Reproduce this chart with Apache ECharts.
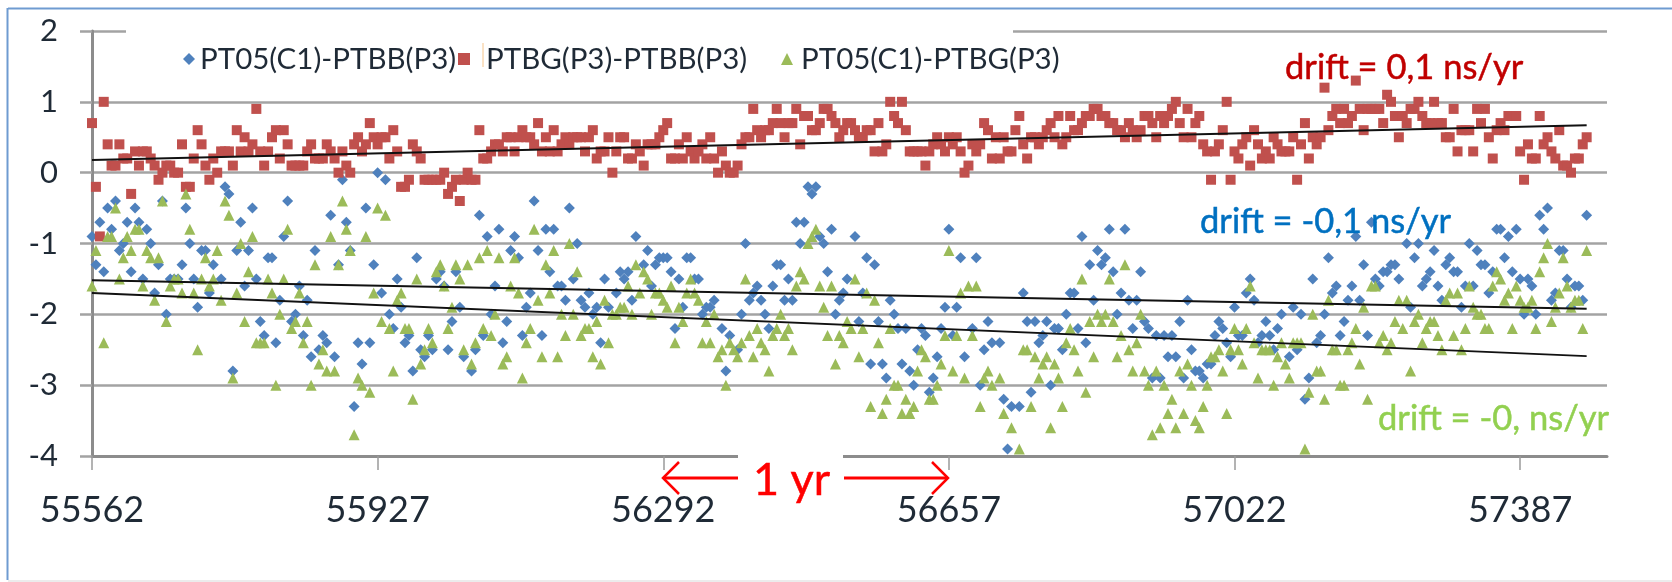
<!DOCTYPE html>
<html><head><meta charset="utf-8">
<style>html,body{margin:0;padding:0;background:#fff}#c{width:1672px;height:582px}</style>
<script src="https://cdn.jsdelivr.net/npm/echarts@6/dist/echarts.min.js"></script>
</head><body><div id="c"></div>
<script>
const startDay = 55562, stepDays = 5;
const xTicks = [55562, 55927, 56292, 56657, 57022, 57387];
const seriesNames = ['PT05(C1)-PTBB(P3)', 'PTBG(P3)-PTBB(P3)', 'PT05(C1)-PTBG(P3)'];
const redValues = [
.7,-.2,-.9,1,.4,.1,.1,.4,.2,.2,
-.3,.3,.1,.3,.3,.2,.1,-.1,0,.1,
.1,0,0,.4,-.2,-.2,.2,.6,.4,.1,
-.1,.2,0,.3,.3,.3,.1,.6,.3,.5,
.3,.4,.9,.3,.1,.3,.5,.6,.2,.6,
.4,.1,.1,.1,.1,.3,.4,.2,.2,.2,
.4,.3,.2,0,.3,.1,0,.4,.5,.3,
.4,.7,.5,.4,.5,.5,.2,.6,.3,-.2,
-.2,-.1,.4,.3,.2,-.1,-.1,-.1,-.1,-.1,
0,-.3,-.2,-.1,-.4,-.1,0,-.1,-.1,.6,
.2,.2,.3,.4,.4,.3,.5,.5,.3,.5,
.6,.5,.5,.4,.7,.3,.5,.3,.6,.3,
.4,.5,.4,.5,.5,.5,.3,.5,.6,.2,
.3,.3,.5,0,.3,.5,.5,.2,.2,.4,
.3,.1,.4,.4,.4,.5,.6,.7,.2,.2,
.4,.2,.5,.3,.2,.3,.4,.2,.5,.2,
0,.3,.1,0,0,.1,.4,.5,.5,.9,
.6,.5,.6,.6,.7,.9,.7,.5,.7,.7,
.9,.4,.8,.8,.6,.6,.7,.9,.9,.8,
.7,.5,.6,.7,.7,.6,.5,.5,.6,.6,
.3,.7,.3,.4,1,.8,.7,1,.6,.3,
.3,.3,.3,.1,.3,.4,.5,.4,.3,.5,
.4,.5,.3,0,.1,.4,.3,.4,.7,.6,
.2,.5,.2,.5,.3,.3,.6,.8,.4,.2,
.5,.5,.4,.5,.6,.7,.5,.8,.4,.5,
.8,.6,.6,.7,.8,.8,.9,.9,.8,.8,
.7,.7,.6,.6,.5,.7,.6,.5,.6,.8,
.8,.7,.5,.8,.7,.8,.9,1,.7,.5,
.9,.5,.7,.8,.4,.3,-.1,.3,.4,.6,
1,-.1,.3,.2,.4,.5,.1,.6,.4,.2,
.3,.2,.5,.4,.3,.3,.3,.5,-.1,.4,
.7,.2,.5,.4,.5,1.2,.6,.8,.9,.7,
.9,.7,.8,1.3,.9,.6,.9,.9,.9,.9,
.7,1.1,1,.8,.5,.8,.7,.9,.9,1,
.8,.7,.7,1,.7,.7,.5,.5,.9,.3,
.6,.6,.6,.3,.9,.7,.9,.5,.2,.6,
.7,.6,.8,.8,.8,.3,-.1,.4,.2,.2,
.8,.4,.5,.3,.2,.6,.1,.1,0,.2,.2,.4,.5];
const blueValues = [
-.9,-1.3,-.7,-1.4,-.5,-.8,-.4,-1.1,-1,-.7,
-1.4,-.5,-.7,-1.5,-.8,-1,-1.7,-1.3,-.4,-2,
-1.5,-1.5,-1.5,-1.3,-.5,-1,-1.5,-1.9,-1.1,-1.1,
-1.7,-1.3,null,-1.5,-.2,-.3,-2.8,-1.1,-.7,-1.6,
-1.1,-.5,-1.5,-2.1,-2.3,-1.2,-1.2,-2.4,-1.8,-.9,
-.4,-2.1,-2,-1.6,-2.3,-1.8,-2.6,-1.1,-2.5,-2.3,
-2.4,-.6,-2.6,-1.3,-.1,-.7,-1.1,-3.3,-2.4,-2.7,
-.5,-2.4,-1.3,0,-1.7,-.1,-2,-2.2,-1.5,-1.9,
-2.4,-2.3,-2.8,-1.2,-2.5,-2.6,-2.3,-2.5,-1.5,-1.4,
-1.6,-2.5,-2.1,-1.4,-1.9,-2.6,null,-2.8,-2.5,-.6,
-2.3,-.9,-2,-1.6,-.8,-2.4,-2.1,-1.1,-.9,-1.2,
-2.3,-1.9,-1.7,-.4,-1.1,-2.3,-.8,-1.4,-.8,-1.6,
-1.6,-1.8,-.5,-1.5,-1,-1.8,-1.9,-1.7,-2,-1.9,
-2.4,-1.5,-1.9,null,-1.7,-1.4,-1.5,-1.4,-1.8,-.9,
null,-1.3,-1.1,-1.6,-1.3,-1.2,-1.2,-1.2,-1.4,-2.2,
-1.5,-1.9,-1.2,-1.2,-1.5,-1.5,-2,-1.9,-1.9,-1.8,
null,-2.2,-2.8,-2.3,null,-2.5,-2,-1,-1.8,-1.7,
-1.6,-1.8,-2,-2.2,-1.6,-1.3,-1.3,-1.8,-1.5,-1.8,
-.7,-1,-.7,-.2,-.3,-.2,-.9,-1,-1.4,-.8,
-2,-1.8,-1.7,-1.5,null,-.9,-2.1,-1.7,-1.2,-2.7,
-1.3,-2.1,-2.7,-2.9,-1.8,-2,-2.2,-2.7,-2.2,-2.8,
-3,-2.5,-2.2,-2.3,-3.1,-2.9,-2.6,-2.2,-1.9,-.8,
-2.3,-1.9,-1.2,-2.6,null,-2.2,-1.2,-3,-2.5,-2.1,
-2.4,null,-2.4,-3.2,-3.9,-3.3,null,-3.3,-1.7,-2.1,
-3.1,-2.1,-2.4,-2.3,-2.1,-3,-2.2,-2.2,-2.5,-2,
-1.7,-1.7,-2.2,-.9,-2.4,-1.3,-1.8,-1.1,-1.3,-1.2,
-.8,-1.4,-2,-1.7,-.8,-1.8,-2.2,-1.8,-1.4,-2.1,
-2.2,-2.9,-2.3,-2.9,-2.3,-2.6,-2.3,-2.6,-2.1,-2.9,
-1.8,-2.5,-2.8,-2.8,-2.9,-2.7,-2.7,-2.3,-2.1,-2.2,
-2.4,-2.6,-1.9,-2.3,-2.3,-1.7,-1.5,-1.8,-2.4,-2.3,
-2.1,-2.3,-2.5,-2.2,-2,null,-2.6,-1.9,-2.5,-2,
-3.2,-2.9,-1.5,-2.4,-2.3,-2,-1.2,-1.7,-1.6,-2.3,
-2.1,-1.8,-1.6,-.9,-1.8,-1.3,-2.3,-.7,-1.5,-1.6,
-1.4,-1.4,-1.3,-1.3,-1.5,null,-1,-1.9,-1.2,-1,
-1.6,-1.5,-1.4,-1.1,-1.6,-1.8,-1.3,-1.2,-1.4,-1.4,
-1.9,-1.6,-1,-1.6,-1.1,-1.3,-1.3,-1.7,-1.4,-.8,
-.8,-1.2,-.9,-1.4,-.8,-1.5,-2,-1.5,-1.6,-2,
-.6,-.8,-.5,-1.8,-1.7,-1.1,-1.1,-1.5,-1.9,-1.6,-1.6,-1.8,-.6];
const greenValues = [
-1.6,-1.1,null,-2.4,-.9,-.9,-.5,-1.5,-1.2,-.9,
-1.1,-.8,-.8,-1.6,-1.1,-1.2,-1.8,-1.2,-.4,-2.1,
-1.6,-1.5,-1.5,-1.7,-.3,-.8,-1.7,-2.5,-1.5,-1.2,
-1.6,-1.5,-1.1,-1.8,-.4,-.6,-2.9,-1.7,-1,-2.1,
-1.4,-.9,-2.4,-2.4,-2.4,-1.5,-1.7,-3,-2,-1.5,
-.8,-2.2,-2.1,-1.7,-2.4,-2.1,-3,-1.3,-2.7,-2.5,
-2.8,-.9,-2.8,-1.3,-.4,-.8,-1.1,-3.7,-2.9,-3,
-.9,-3.1,-1.7,-.5,-2.1,-.6,-2.2,-2.8,-1.8,-1.7,
-2.2,-2.2,-3.2,-1.5,-2.7,-2.5,-2.2,-2.4,-1.4,-1.3,
-1.6,-2.2,-1.9,-1.3,-1.5,-2.5,-1.3,-2.7,-2.4,-1.2,
-2.2,-1.1,-2.3,-2,-1.2,-2.7,-2.6,-1.6,-1.2,-1.7,
-2.9,-2.4,-2.2,-.8,-1.8,-2.6,-1.3,-1.7,-1.1,-2.6,
-2,-2.3,-1,-2,-1.4,-2.3,-2.2,-2.2,-2.6,-2.1,
-2.7,-1.8,-2.4,-2,-2,-1.9,-1.9,-1.6,-2,-1.3,
-1.7,-1.4,-1.5,-2,-1.7,-1.7,-1.8,-1.9,-1.6,-2.4,
-1.9,-2.1,-1.7,-1.5,-1.7,-1.8,-2.4,-2.1,-2.4,-2,
-2.6,-2.5,-3,-2.4,-2.5,-2.6,-2.4,-1.5,-2.3,-2.6,
-2.2,-2.4,-2.5,-2.8,-2.3,-2.2,-2,-2.3,-2.2,-2.5,
-1.6,-1.4,-1.5,-1,-.9,-.8,-1.6,-1.9,-2.3,-1.6,
-2.7,-2.3,-2.4,-2.1,-2.2,-1.5,-2.6,-2.2,-1.7,-3.3,
-1.8,-2.4,-3.4,-3.2,-2.2,-3,-3,-3.4,-3.2,-3.4,
-3.3,-2.8,-2.5,-2.6,-3.2,-3.2,-3,-2.7,-2.3,-1.1,
-2.8,-2.3,-1.7,-2.9,-1.6,-2.3,-1.6,-3.3,-2.9,-2.8,
-3,null,-2.9,-3.4,null,-3.6,null,-3.9,-2.5,-2.5,
-3.3,-2.6,-2.9,-2.7,-2.6,-3.6,-2.7,-2.9,-3.3,-2.4,
-2.2,-2.5,-2.8,-1.5,-3.1,-2.1,-2.6,-2,-2.1,-2,
-1.5,-2.1,-2.6,-2.3,-1.3,-2.5,-2.8,-2.4,-2,-2.8,
-3,-3.7,-2.8,-3.6,-3,-3.4,-3.2,-3.6,-2.8,-3.4,
-2.7,-3,-3.5,-3.6,-3.3,-3,-2.6,-2.6,-2.5,-2.8,
-3.4,-2.5,-2.2,-2.5,-2.7,-2.2,-1.6,-2.4,-2.9,-2.5,
-2.5,-2.5,-3,-2.6,-2.4,-2.7,-2.9,-2.4,-2.4,-2.4,
-3.9,-3.1,-2,-2.8,-2.8,-3.2,-1.8,-2.5,-2.5,-3,
-3,-2.5,-2.4,-2.2,-2.7,-1.9,-3.2,-1.6,-1.6,-2.4,
-2.3,-2.5,-2.4,-2.1,-1.8,-2.2,-1.8,-2.8,-2.1,-2,
-2.4,-2.2,-2.1,-2.1,-2.3,-2.5,-1.8,-1.7,-2.3,-1.7,
-2.5,-2.2,-1.6,-1.9,-2,-2,-2.2,-2.2,-1.6,-1.4,
-1.5,-1.8,-1.7,-2.2,-1.6,-1.8,-1.9,-1.9,-1.8,-2.2,
-1.4,-1.2,-1,-2.1,-1.9,-1.7,-1.2,-1.6,-1.9,-1.8,-1.8,-2.2,-1.1];
const trendDays = [55562, 57472];
const redTrend = [0.18, 0.67];
const blueTrend = [-1.52, -1.92];
const greenTrend = [-1.70, -2.59];

const toPoints = a => a.map((v, i) => [startDay + i * stepDays, v]).filter(p => p[1] !== null);
const toTrend = a => a.map((v, i) => [trendDays[i], v]);
const FONT = 'Lato';
const GRID = '#a3a3a3', AXIS = '#8c8c8c', INK = '#1f2a36';
const scatter = (name, data, symbol, size, color) => ({
  name, type: 'scatter', data: toPoints(data), symbol, symbolSize: size,
  itemStyle: { color, opacity: 1 }, silent: true
});
const trend = d => ({
  type: 'line', data: toTrend(d), symbol: 'none', silent: true, z: 5,
  lineStyle: { color: '#111', width: 2 }
});
const label = (text, x, y, size, color) => ({
  type: 'text', z: 20, x, y,
  style: { text, fontFamily: FONT, fontSize: size, fill: color, stroke: color, lineWidth: 0.5, textAlign: 'left', textVerticalAlign: 'middle' }
});
const arrow = (x0, x1, y, dir) => ([
  { type: 'line', z: 20, shape: { x1: x0, y1: y, x2: x1, y2: y }, style: { stroke: '#ff0000', lineWidth: 3 } },
  { type: 'polyline', z: 20, shape: { points: dir < 0 ? [[x0 + 16, y - 16], [x0, y], [x0 + 16, y + 16]] : [[x1 - 16, y - 16], [x1, y], [x1 - 16, y + 16]] }, style: { stroke: '#ff0000', lineWidth: 2.5, fill: 'none' } }
]);
const legendItem = (i, icon, left, size, pad) => ({
  data: [{ name: seriesNames[i], icon }],
  left, top: 39, itemWidth: size, itemHeight: size, selectedMode: false, z: 20,
  textStyle: { fontFamily: FONT, fontSize: 29.5, color: INK, padding: [0, 0, 0, pad] }
});

const chart = echarts.init(document.getElementById('c'), null, { renderer: 'canvas' });
chart.setOption({
  animation: false,
  backgroundColor: '#fff',
  grid: { left: 92, top: 31, width: 1515, height: 425 },
  legend: [
    legendItem(0, 'diamond', 178, 12, 0),
    legendItem(1, 'rect', 453, 12, 11),
    legendItem(2, 'triangle', 776, 12, 3)
  ],
  xAxis: {
    type: 'value', min: startDay, max: 57498, splitLine: { show: false },
    axisLine: { show: true, onZero: false, lineStyle: { color: AXIS, width: 3 } },
    axisTick: { show: true, length: 14, customValues: xTicks, lineStyle: { color: '#9a9a9a', width: 1.5 } },
    axisLabel: { customValues: xTicks, margin: 36, fontFamily: FONT, fontSize: 36, color: INK, formatter: v => String(v) }
  },
  yAxis: {
    type: 'value', min: -4, max: 2, interval: 1,
    splitLine: { show: true, lineStyle: { color: GRID, width: 2.5 } },
    axisLine: { show: true, onZero: false, lineStyle: { color: AXIS, width: 3 } },
    axisTick: { show: true, length: 12, lineStyle: { color: GRID, width: 2.5 } },
    axisLabel: { margin: 34, fontFamily: FONT, fontSize: 31, color: INK }
  },
  series: [
    scatter(seriesNames[0], blueValues, 'diamond', 11, '#4f81bd'),
    scatter(seriesNames[1], redValues, 'rect', 10, '#c0504d'),
    scatter(seriesNames[2], greenValues, 'triangle', 11, '#9bbb59'),
    trend(redTrend), trend(blueTrend), trend(greenTrend)
  ],
  graphic: [
    { type: 'rect', z: 1, shape: { x: 126, y: 26, width: 887, height: 10 }, style: { fill: '#fff' } },
    { type: 'rect', z: 1, shape: { x: 738, y: 450, width: 105, height: 12 }, style: { fill: '#fff' } },
    { type: 'line', z: 30, shape: { x1: 8, y1: 8.5, x2: 1672, y2: 8.5 }, style: { stroke: '#6f9bd1', lineWidth: 2 } },
    { type: 'line', z: 30, shape: { x1: 7.5, y1: 8, x2: 7.5, y2: 580 }, style: { stroke: '#6f9bd1', lineWidth: 2 } },
    { type: 'line', z: 30, shape: { x1: 8, y1: 581, x2: 1672, y2: 581 }, style: { stroke: '#e6e6e6', lineWidth: 1.5 } },
    { type: 'line', z: 25, shape: { x1: 483, y1: 43, x2: 483, y2: 67 }, style: { stroke: '#f5c48a', lineWidth: 1 } },
    label('drift = 0,1 ns/yr', 1285, 68, 34.5, '#c00000'),
    label('drift = -0,1 ns/yr', 1200, 222, 34.5, '#0070c0'),
    label('drift = -0, ns/yr', 1378, 419, 34.5, '#92d050'),
    label('1 yr', 753, 480, 45, '#ff0000'),
    ...arrow(663, 738, 478, -1),
    ...arrow(844, 948, 478, 1)
  ]
});
</script></body></html>
